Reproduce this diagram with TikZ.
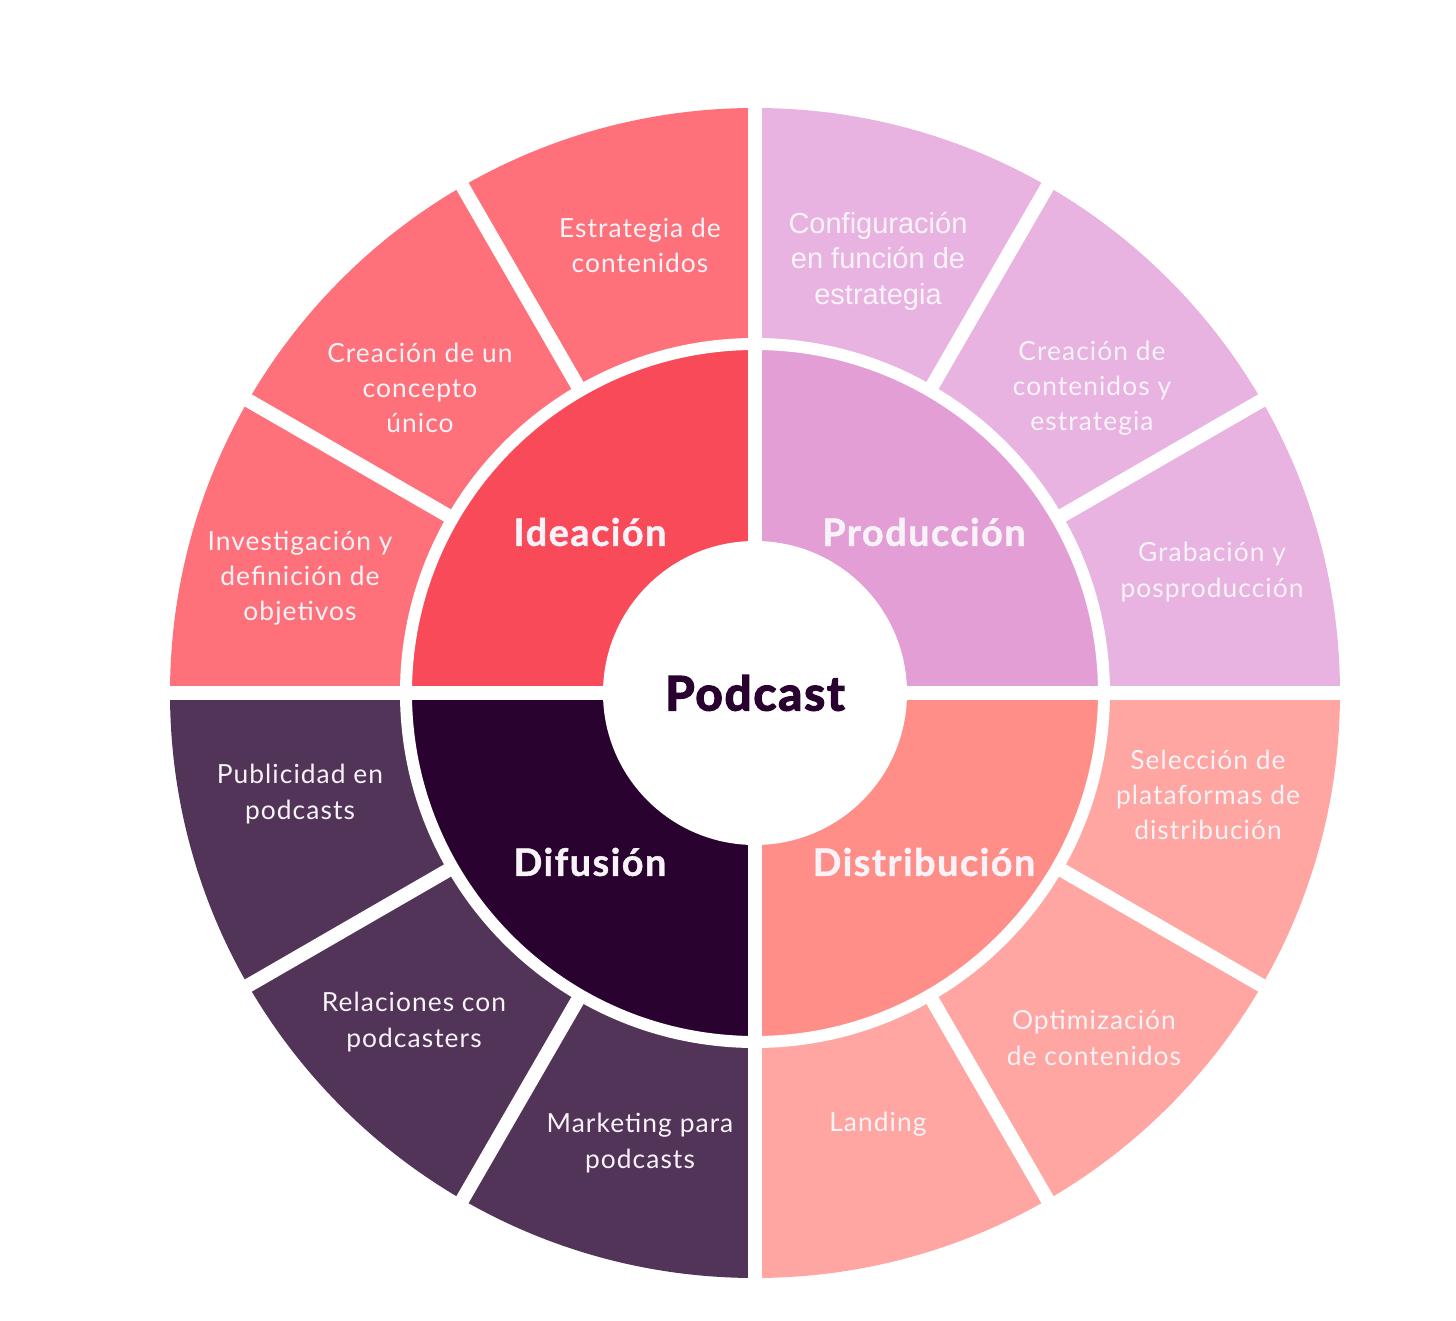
\documentclass[tikz,border=0pt]{standalone}
\usepackage{fontspec}
\setmainfont{Lato}
\newfontfamily\arialfont{Liberation Sans}
\newfontfamily\heavyfont[FakeBold=3,LetterSpace=4]{Lato}
\usepackage{tikz}

\definecolor{IdIn}{HTML}{F94A5A}
\definecolor{IdOut}{HTML}{FF717A}
\definecolor{PrIn}{HTML}{E39ED5}
\definecolor{PrOut}{HTML}{E8B3E0}
\definecolor{DsIn}{HTML}{FF8E89}
\definecolor{DsOut}{HTML}{FFA6A2}
\definecolor{DfIn}{HTML}{2A0230}
\definecolor{DfOut}{HTML}{513457}
\definecolor{txt}{HTML}{F8F3F8}

\begin{document}
\begin{tikzpicture}[
	scale=0.2,
	% 为图形中的白色分隔线设置统一样式
	gap/.style={draw=white, line width=0.28cm},
	% 外圈文字
	item/.style={text=txt, align=center, font=\fontsize{15}{20}\selectfont\addfontfeatures{LetterSpace=4}},
	% 内圈文字
	phase/.style={text=txt, font=\bfseries\fontsize{21.5}{24}\selectfont\addfontfeatures{FakeBold=1.2,LetterSpace=4}}
	]
	
	\useasboundingbox (-75.5,-62.8) rectangle (70.1,69.3);
	
	% ----- 1. 绘制外圈 -----
	\coordinate (O) at (0,0);
	\fill[IdOut] (O) -- (90:58.5) arc[start angle=90, end angle=180, radius=58.5] -- cycle;
	\fill[PrOut] (O) -- (0:58.5) arc[start angle=0, end angle=90, radius=58.5] -- cycle;
	\fill[DsOut] (O) -- (-90:58.5) arc[start angle=-90, end angle=0, radius=58.5] -- cycle;
	\fill[DfOut] (O) -- (180:58.5) arc[start angle=180, end angle=270, radius=58.5] -- cycle;
	
	% ----- 2. 绘制内圈 -----
	\fill[IdIn] (O) -- (90:34.9) arc[start angle=90, end angle=180, radius=34.9] -- cycle;
	\fill[PrIn] (O) -- (0:34.9) arc[start angle=0, end angle=90, radius=34.9] -- cycle;
	\fill[DsIn] (O) -- (-90:34.9) arc[start angle=-90, end angle=0, radius=34.9] -- cycle;
	\fill[DfIn] (O) -- (180:34.9) arc[start angle=180, end angle=270, radius=34.9] -- cycle;
	
	% ----- 3. 白色分隔线 -----
	\draw[gap, line width=0.24cm] (O) circle (34.9);
	\draw[gap] (-60,0) -- (60,0);
	\draw[gap] (0,-60) -- (0,60);
	\foreach \a in {30,60,120,150,210,240,300,330}
		\draw[gap] (\a:34.9) -- (\a:60);
	% 中心的白色圆
	\fill[white] (O) circle (15.2);
	
	% ----- 4. 添加标签 -----
	\node[text=DfIn, font=\heavyfont\bfseries\fontsize{27}{30}\selectfont] (PC) at (O) {Podcast};
	
	\node[phase] (ID) at (-16.5,16.1) {Ideación};
	\node[phase] (PR) at (16.9,16.1) {Producción};
	\node[phase] (DF) at (-16.5,-16.9) {Difusión};
	\node[phase] (DS) at (16.9,-16.9) {Distribución};
	
	% Ideación
	\node[item] (ID1) at (-11.5,44.8) {Estrategia de\\contenidos};
	\node[item] (ID2) at (-33.5,30.5) {Creación de un\\concepto\\único};
	\node[item] (ID3) at (-45.5,11.5) {Investigación y\\definición de\\objetivos};
	
	% Producción
	\node[item, font=\arialfont\fontsize{16.5}{20.2}\selectfont] (PR1) at (12.3,43.2) {Configuración\\en función de\\estrategia};
	\node[item] (PR2) at (33.7,30.5) {Creación de\\contenidos y\\estrategia};
	\node[item] (PR3) at (45.7,12.1) {Grabación y\\posproducción};
	
	% Distribución
	\node[item] (DS1) at (45.3,-10.2) {Selección de\\plataformas de\\distribución};
	\node[item] (DS2) at (33.9,-34.5) {Optimización\\de contenidos};
	\node[item] (DS3) at (12.3,-43.1) {Landing};
	
	% Difusión
	\node[item] (DF1) at (-45.5,-10.1) {Publicidad en\\podcasts};
	\node[item] (DF2) at (-34.1,-32.9) {Relaciones con\\podcasters};
	\node[item] (DF3) at (-11.5,-45.0) {Marketing para\\podcasts};
	
\end{tikzpicture}
\end{document}
